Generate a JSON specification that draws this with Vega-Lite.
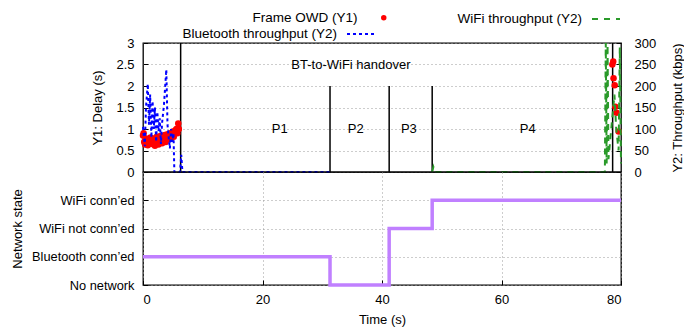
{
  "$schema": "https://vega.github.io/schema/vega-lite/v6.json",
  "padding": {"left": 10, "top": 4, "right": 0, "bottom": 5},
  "background": "white",
  "spacing": 0,
  "bounds": "flush",
  "datasets": {
    "series": [
      {"t": 0.0, "v": 0.85, "s": "Frame OWD (Y1)"},
      {"t": 0.1, "v": 0.9, "s": "Frame OWD (Y1)"},
      {"t": 0.2, "v": 0.7, "s": "Frame OWD (Y1)"},
      {"t": 0.35, "v": 0.64, "s": "Frame OWD (Y1)"},
      {"t": 0.5, "v": 0.78, "s": "Frame OWD (Y1)"},
      {"t": 0.65, "v": 0.69, "s": "Frame OWD (Y1)"},
      {"t": 0.8, "v": 0.62, "s": "Frame OWD (Y1)"},
      {"t": 0.95, "v": 0.75, "s": "Frame OWD (Y1)"},
      {"t": 1.1, "v": 0.68, "s": "Frame OWD (Y1)"},
      {"t": 1.25, "v": 0.8, "s": "Frame OWD (Y1)"},
      {"t": 1.4, "v": 0.72, "s": "Frame OWD (Y1)"},
      {"t": 1.55, "v": 0.65, "s": "Frame OWD (Y1)"},
      {"t": 1.7, "v": 0.78, "s": "Frame OWD (Y1)"},
      {"t": 1.85, "v": 0.7, "s": "Frame OWD (Y1)"},
      {"t": 2.0, "v": 0.61, "s": "Frame OWD (Y1)"},
      {"t": 2.15, "v": 0.74, "s": "Frame OWD (Y1)"},
      {"t": 2.3, "v": 0.82, "s": "Frame OWD (Y1)"},
      {"t": 2.45, "v": 0.7, "s": "Frame OWD (Y1)"},
      {"t": 2.6, "v": 0.64, "s": "Frame OWD (Y1)"},
      {"t": 2.75, "v": 0.76, "s": "Frame OWD (Y1)"},
      {"t": 2.9, "v": 0.84, "s": "Frame OWD (Y1)"},
      {"t": 3.05, "v": 0.72, "s": "Frame OWD (Y1)"},
      {"t": 3.2, "v": 0.67, "s": "Frame OWD (Y1)"},
      {"t": 3.35, "v": 0.8, "s": "Frame OWD (Y1)"},
      {"t": 3.5, "v": 0.74, "s": "Frame OWD (Y1)"},
      {"t": 3.65, "v": 0.86, "s": "Frame OWD (Y1)"},
      {"t": 3.8, "v": 0.7, "s": "Frame OWD (Y1)"},
      {"t": 3.95, "v": 0.8, "s": "Frame OWD (Y1)"},
      {"t": 4.1, "v": 0.88, "s": "Frame OWD (Y1)"},
      {"t": 4.25, "v": 0.76, "s": "Frame OWD (Y1)"},
      {"t": 4.4, "v": 0.82, "s": "Frame OWD (Y1)"},
      {"t": 4.55, "v": 0.9, "s": "Frame OWD (Y1)"},
      {"t": 4.7, "v": 0.78, "s": "Frame OWD (Y1)"},
      {"t": 4.85, "v": 0.85, "s": "Frame OWD (Y1)"},
      {"t": 5.0, "v": 0.94, "s": "Frame OWD (Y1)"},
      {"t": 5.15, "v": 0.82, "s": "Frame OWD (Y1)"},
      {"t": 5.3, "v": 0.9, "s": "Frame OWD (Y1)"},
      {"t": 5.45, "v": 0.97, "s": "Frame OWD (Y1)"},
      {"t": 5.6, "v": 1.0, "s": "Frame OWD (Y1)"},
      {"t": 5.75, "v": 0.9, "s": "Frame OWD (Y1)"},
      {"t": 5.9, "v": 1.13, "s": "Frame OWD (Y1)"},
      {"t": 6.0, "v": 1.0, "s": "Frame OWD (Y1)"},
      {"t": 78.55, "v": 2.5, "s": "Frame OWD (Y1)"},
      {"t": 78.7, "v": 2.57, "s": "Frame OWD (Y1)"},
      {"t": 78.75, "v": 2.18, "s": "Frame OWD (Y1)"},
      {"t": 78.95, "v": 2.02, "s": "Frame OWD (Y1)"},
      {"t": 79.05, "v": 1.52, "s": "Frame OWD (Y1)"},
      {"t": 79.25, "v": 1.38, "s": "Frame OWD (Y1)"},
      {"t": 79.6, "v": 0.94, "s": "Frame OWD (Y1)"},
      {"t": 0.0, "v": 105, "s": "Bluetooth throughput (Y2)"},
      {"t": 0.3, "v": 60, "s": "Bluetooth throughput (Y2)"},
      {"t": 0.5, "v": 150, "s": "Bluetooth throughput (Y2)"},
      {"t": 0.8, "v": 205, "s": "Bluetooth throughput (Y2)"},
      {"t": 1.0, "v": 110, "s": "Bluetooth throughput (Y2)"},
      {"t": 1.2, "v": 180, "s": "Bluetooth throughput (Y2)"},
      {"t": 1.4, "v": 80, "s": "Bluetooth throughput (Y2)"},
      {"t": 1.6, "v": 165, "s": "Bluetooth throughput (Y2)"},
      {"t": 1.8, "v": 100, "s": "Bluetooth throughput (Y2)"},
      {"t": 2.0, "v": 150, "s": "Bluetooth throughput (Y2)"},
      {"t": 2.2, "v": 70, "s": "Bluetooth throughput (Y2)"},
      {"t": 2.4, "v": 140, "s": "Bluetooth throughput (Y2)"},
      {"t": 2.6, "v": 95, "s": "Bluetooth throughput (Y2)"},
      {"t": 2.8, "v": 125, "s": "Bluetooth throughput (Y2)"},
      {"t": 3.0, "v": 65, "s": "Bluetooth throughput (Y2)"},
      {"t": 3.2, "v": 115, "s": "Bluetooth throughput (Y2)"},
      {"t": 3.5, "v": 155, "s": "Bluetooth throughput (Y2)"},
      {"t": 3.9, "v": 238, "s": "Bluetooth throughput (Y2)"},
      {"t": 4.1, "v": 110, "s": "Bluetooth throughput (Y2)"},
      {"t": 4.3, "v": 80, "s": "Bluetooth throughput (Y2)"},
      {"t": 4.5, "v": 55, "s": "Bluetooth throughput (Y2)"},
      {"t": 4.7, "v": 100, "s": "Bluetooth throughput (Y2)"},
      {"t": 4.9, "v": 70, "s": "Bluetooth throughput (Y2)"},
      {"t": 5.1, "v": 90, "s": "Bluetooth throughput (Y2)"},
      {"t": 5.25, "v": 0, "s": "Bluetooth throughput (Y2)"},
      {"t": 6.2, "v": 0, "s": "Bluetooth throughput (Y2)"},
      {"t": 6.4, "v": 40, "s": "Bluetooth throughput (Y2)"},
      {"t": 6.6, "v": 0, "s": "Bluetooth throughput (Y2)"},
      {"t": 31.3, "v": 0, "s": "Bluetooth throughput (Y2)"},
      {"t": 48.4, "v": 0, "s": "WiFi throughput (Y2)"},
      {"t": 48.6, "v": 12, "s": "WiFi throughput (Y2)"},
      {"t": 48.9, "v": 0, "s": "WiFi throughput (Y2)"},
      {"t": 77.3, "v": 0, "s": "WiFi throughput (Y2)"},
      {"t": 77.45, "v": 300, "s": "WiFi throughput (Y2)"},
      {"t": 77.6, "v": 20, "s": "WiFi throughput (Y2)"},
      {"t": 77.75, "v": 295, "s": "WiFi throughput (Y2)"},
      {"t": 77.9, "v": 30, "s": "WiFi throughput (Y2)"},
      {"t": 78.9, "v": 180, "s": "WiFi throughput (Y2)"},
      {"t": 79.2, "v": 100, "s": "WiFi throughput (Y2)"},
      {"t": 79.6, "v": 50, "s": "WiFi throughput (Y2)"},
      {"t": 79.8, "v": 290, "s": "WiFi throughput (Y2)"},
      {"t": 80.0, "v": 20, "s": "WiFi throughput (Y2)"}
    ],
    "markers": [
      {"t": 6.3, "top": 3},
      {"t": 31.3, "top": 2},
      {"t": 41.2, "top": 2},
      {"t": 48.4, "top": 2},
      {"t": 78.6, "top": 3}
    ],
    "labels": [
      {"t": 34.8, "y": 2.5, "label": "BT-to-WiFi handover"},
      {"t": 22.9, "y": 1.0, "label": "P1"},
      {"t": 35.6, "y": 1.0, "label": "P2"},
      {"t": 44.5, "y": 1.0, "label": "P3"},
      {"t": 64.4, "y": 1.0, "label": "P4"}
    ],
    "state": [
      {"t": 0, "state": 1},
      {"t": 31.3, "state": 0},
      {"t": 41.2, "state": 2},
      {"t": 48.4, "state": 3},
      {"t": 80, "state": 3}
    ]
  },
  "vconcat": [
    {
      "width": 478,
      "height": 129,
      "encoding": {
        "x": {"field": "t", "type": "quantitative", "scale": {"domain": [0, 80], "nice": false}, "axis": null}
      },
      "layer": [
        {
          "layer": [
            {
              "data": {"name": "markers"},
              "mark": {"type": "rule", "color": "black", "strokeWidth": 1.5},
              "encoding": {
                "y": {"field": "top", "type": "quantitative", "scale": {"domain": [0, 3], "nice": false},
                      "axis": {"title": "Y1: Delay (s)", "values": [0, 0.5, 1, 1.5, 2, 2.5, 3], "format": "~g", "grid": true, "labelPadding": 14, "titlePadding": 11}},
                "y2": {"datum": 0}
              }
            },
            {
              "data": {"name": "labels"},
              "mark": {"type": "text", "font": "Liberation Sans", "fontSize": 13, "color": "black"},
              "encoding": {
                "y": {"field": "y", "type": "quantitative", "scale": {"domain": [0, 3], "nice": false},
                      "axis": {"title": "Y1: Delay (s)", "values": [0, 0.5, 1, 1.5, 2, 2.5, 3], "format": "~g", "grid": true, "labelPadding": 14, "titlePadding": 11}},
                "text": {"field": "label"}
              }
            },
            {
              "data": {"name": "series"},
              "transform": [{"filter": "datum.s === 'Frame OWD (Y1)'"}],
              "mark": {"type": "point", "filled": true, "size": 42, "opacity": 1, "strokeWidth": 0},
              "encoding": {
                "y": {"field": "v", "type": "quantitative", "scale": {"domain": [0, 3], "nice": false},
                      "axis": {"title": "Y1: Delay (s)", "values": [0, 0.5, 1, 1.5, 2, 2.5, 3], "format": "~g", "grid": true, "labelPadding": 14, "titlePadding": 11}},
                "fill": {"field": "s", "type": "nominal",
                         "scale": {"domain": ["Frame OWD (Y1)"], "range": ["#ff0000"]},
                         "legend": {
                           "orient": "none", "legendX": 234, "legendY": -32, "title": null,
                           "labelFont": "Liberation Sans", "labelFontSize": 13.5, "labelColor": "black",
                           "labelAlign": "right", "labelOffset": -33,
                           "symbolType": "circle", "symbolSize": 30, "symbolFillColor": "#ff0000", "symbolStrokeWidth": 0
                         }}
              }
            }
          ]
        },
        {
          "layer": [
            {
              "data": {"name": "series"},
              "transform": [{"filter": "datum.s === 'Bluetooth throughput (Y2)'"}],
              "mark": {"type": "line", "strokeDash": [3, 3], "strokeWidth": 2},
              "encoding": {
                "y": {"field": "v", "type": "quantitative", "scale": {"domain": [0, 300], "nice": false},
                      "axis": {"title": "Y2: Throughput (kbps)", "orient": "right", "values": [0, 50, 100, 150, 200, 250, 300], "grid": false, "titleAngle": 270, "labelPadding": 18, "titlePadding": 29}},
                "color": {"field": "s", "type": "nominal",
                          "scale": {"domain": ["Bluetooth throughput (Y2)"], "range": ["#0000ff"]},
                          "legend": {
                            "orient": "none", "legendX": 203, "legendY": -24, "title": null,
                            "labelFont": "Liberation Sans", "labelFontSize": 13.5, "labelColor": "black",
                            "labelAlign": "right", "labelOffset": -39,
                            "symbolType": "stroke", "symbolSize": 784, "symbolDash": [3, 3], "symbolStrokeWidth": 2
                          }}
              }
            },
            {
              "data": {"name": "series"},
              "transform": [{"filter": "datum.s === 'WiFi throughput (Y2)'"}],
              "mark": {"type": "line", "strokeDash": [6, 5], "strokeWidth": 2},
              "encoding": {
                "y": {"field": "v", "type": "quantitative", "scale": {"domain": [0, 300], "nice": false},
                      "axis": {"title": "Y2: Throughput (kbps)", "orient": "right", "values": [0, 50, 100, 150, 200, 250, 300], "grid": false, "titleAngle": 270, "labelPadding": 18, "titlePadding": 29}},
                "stroke": {"field": "s", "type": "nominal",
                           "scale": {"domain": ["WiFi throughput (Y2)"], "range": ["#2a9a2a"]},
                           "legend": {
                             "orient": "none", "legendX": 448, "legendY": -39, "title": null,
                             "labelFont": "Liberation Sans", "labelFontSize": 13.5, "labelColor": "black",
                             "labelAlign": "right", "labelOffset": -39,
                             "symbolType": "stroke", "symbolSize": 784, "symbolDash": [6, 6], "symbolStrokeWidth": 2
                           }}
              }
            }
          ]
        }
      ],
      "resolve": {"scale": {"y": "independent"}, "axis": {"y": "independent"}}
    },
    {
      "width": 478,
      "height": 113,
      "data": {"name": "state"},
      "mark": {"type": "line", "interpolate": "step-after", "color": "#c080ff", "strokeWidth": 3.5},
      "encoding": {
        "x": {"field": "t", "type": "quantitative", "scale": {"domain": [0, 80], "nice": false},
              "axis": {"title": "Time (s)", "values": [0, 20, 40, 60, 80], "grid": true, "labelPadding": 13, "titlePadding": 7}},
        "y": {"field": "state", "type": "quantitative", "scale": {"domain": [0, 4], "nice": false},
              "axis": {"title": "Network state", "values": [0, 1, 2, 3], "grid": true, "labelPadding": 14, "titlePadding": 7, "labelFontSize": 12.8,
                       "labelExpr": "['No network', 'Bluetooth conn’ed', 'WiFi not conn’ed', 'WiFi conn’ed'][datum.value]"}}
      }
    }
  ],
  "config": {
    "view": {"stroke": "black", "strokeWidth": 1.3},
    "font": "Liberation Sans",
    "axis": {
      "domain": false,
      "labelFont": "Liberation Sans", "labelFontSize": 13, "labelColor": "black",
      "titleFont": "Liberation Sans", "titleFontSize": 13, "titleFontWeight": "normal", "titleColor": "black",
      "tickColor": "black", "tickSize": -5, "tickWidth": 1,
      "gridColor": "#9a9a9a", "gridDash": [1, 3], "gridWidth": 1
    }
  }
}
